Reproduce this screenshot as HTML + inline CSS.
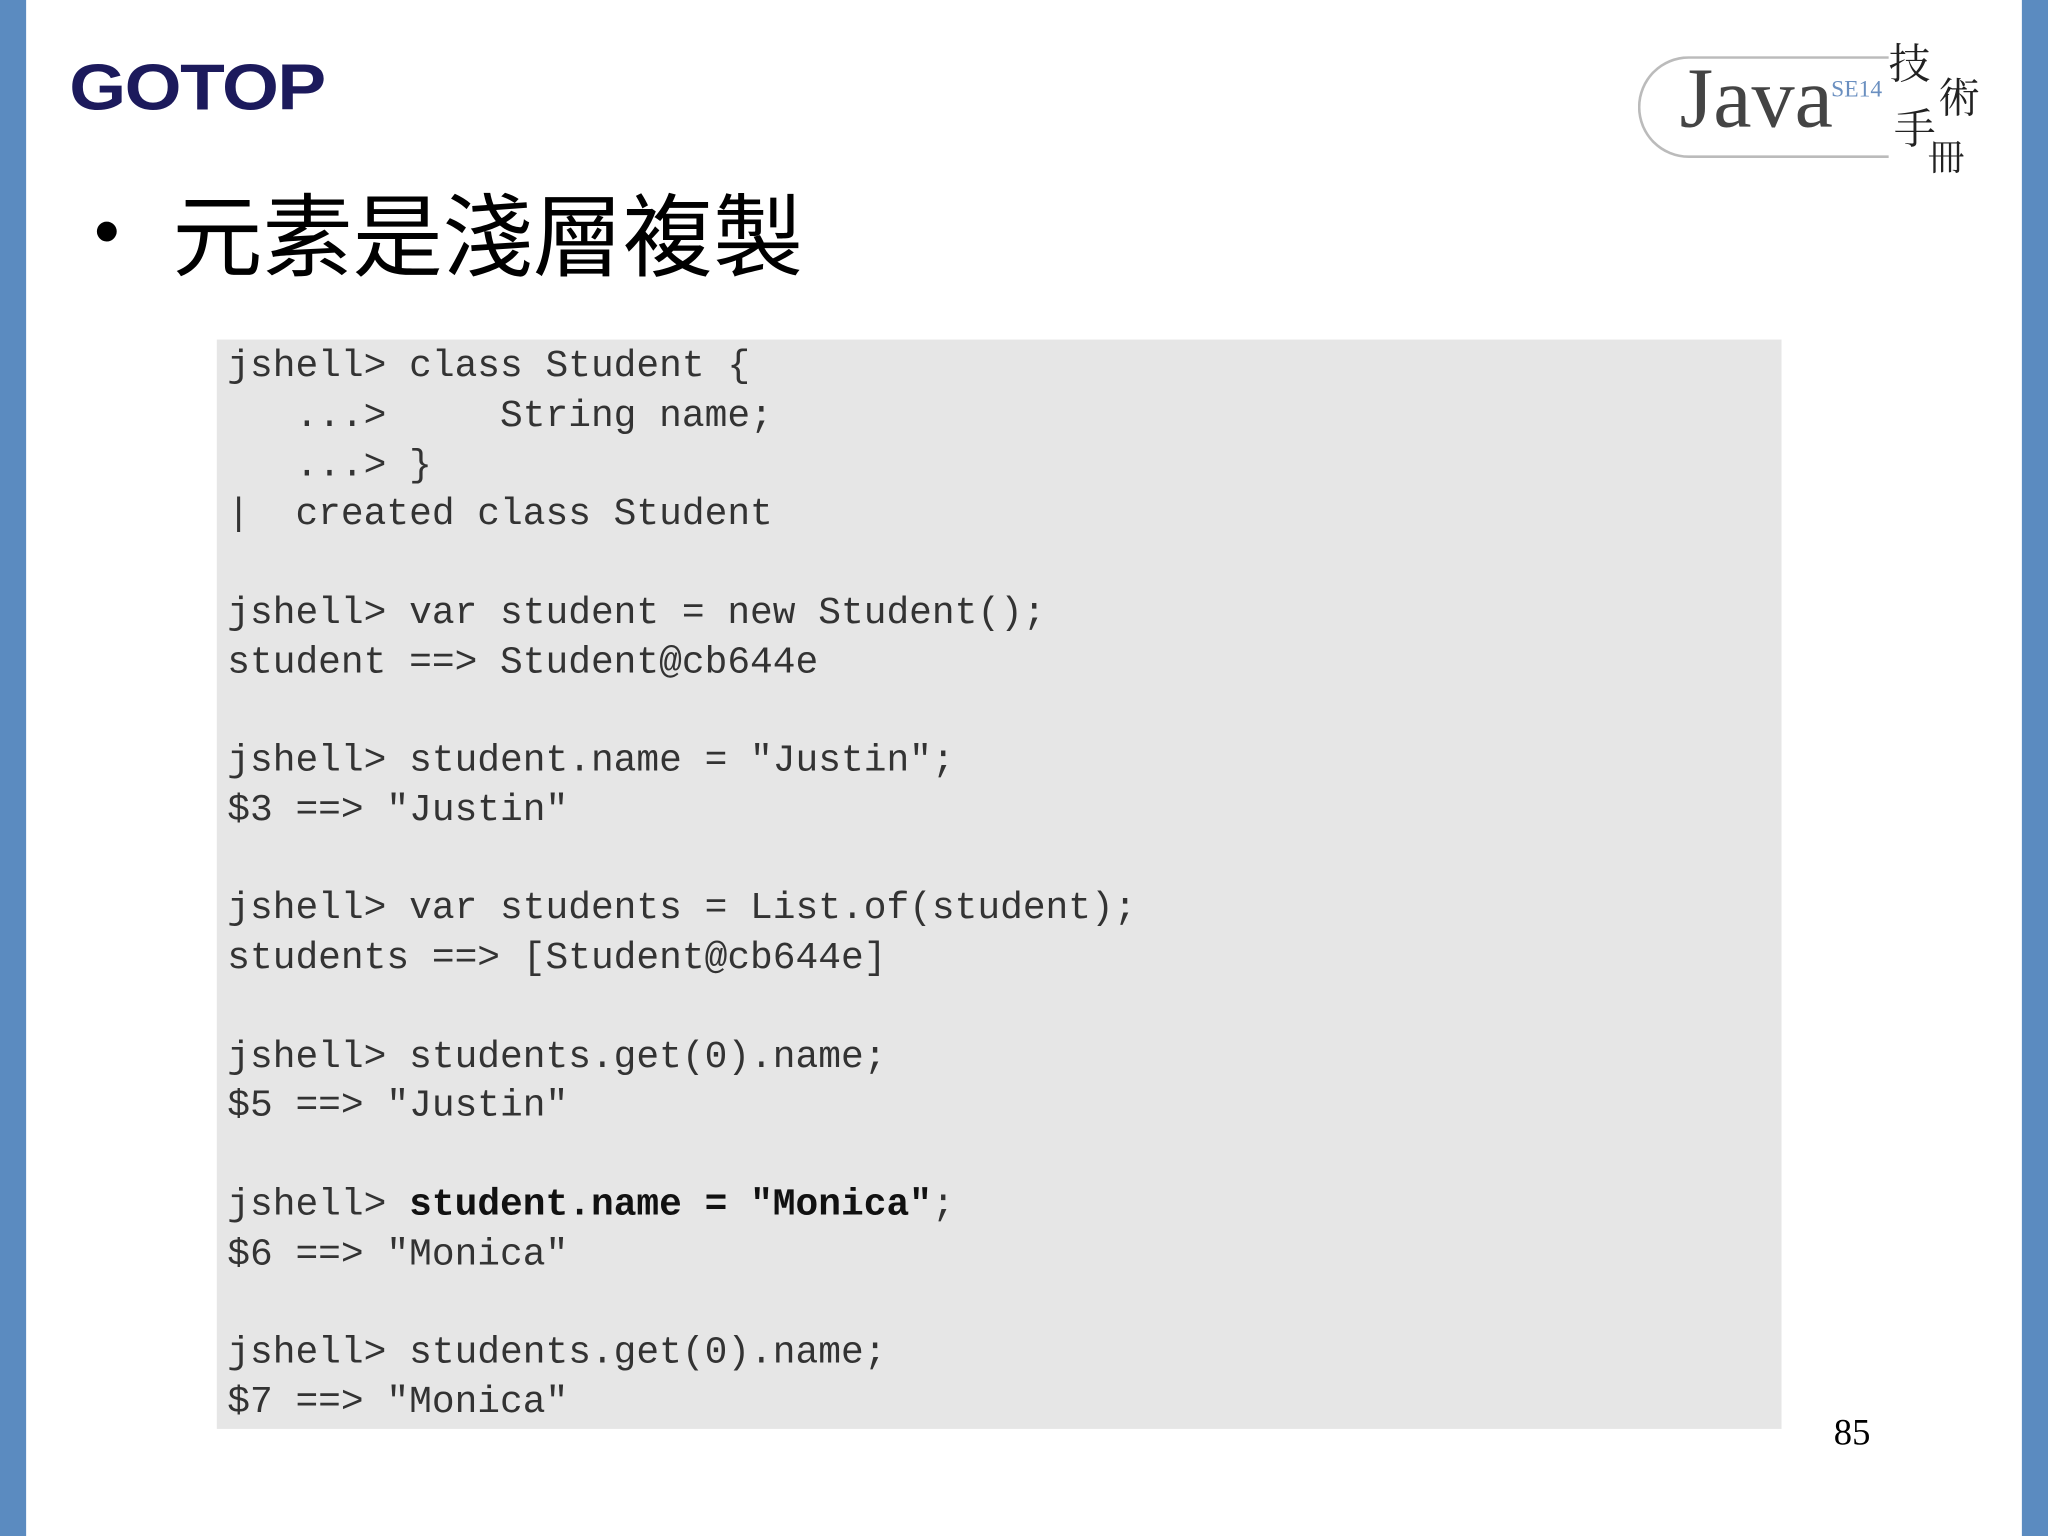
<!DOCTYPE html>
<html><head><meta charset="utf-8"><style>
html,body{margin:0;padding:0;background:#fff;}
body{width:2048px;height:1536px;overflow:hidden;position:relative;}
#s{position:absolute;left:0;top:0;width:1568px;height:1176px;transform:scale(1.306122);transform-origin:0 0;}
.bar{position:absolute;top:0;height:1176px;width:20px;background:#5b8bc0;}
#code{position:absolute;left:166px;top:260px;width:1198px;height:834px;background:#e6e6e6;}
</style></head><body><div id="s">
<div class="bar" style="left:0"></div>
<div class="bar" style="left:1548px"></div>
<div style="position:absolute;left:53px;top:38px;font-family:'Liberation Sans',sans-serif;font-weight:900;font-size:50px;color:#1c1a5c;letter-spacing:-1px;transform:scaleX(1.12);transform-origin:0 0;">GOTOP</div>
<div style="position:absolute;left:1254px;top:43px;width:270px;height:74px;border:2px solid #bbb;border-right:none;border-radius:40px 0 0 40px;"></div>
<div style="position:absolute;left:1286px;top:38px;font-family:'Liberation Serif',serif;font-size:66px;color:#444;">Java</div>
<div style="position:absolute;left:1402px;top:58px;font-family:'Liberation Serif',serif;font-size:18px;color:#6a8fc0;">SE14</div>
<div style="position:absolute;left:1446px;top:30px;width:80px;height:100px;background:#fff;font-family:'Noto Serif CJK SC',serif;font-size:32px;line-height:34px;color:#222;">
<span style="position:absolute;left:0;top:0">技</span><span style="position:absolute;left:38px;top:26px">術</span><span style="position:absolute;left:4px;top:50px">手</span><span style="position:absolute;left:30px;top:72px;font-size:28px">冊</span></div>
<div style="position:absolute;left:72px;top:144px;font-family:'Liberation Sans',sans-serif;font-size:56px;color:#000;">•</div>
<div style="position:absolute;left:132px;top:126px;font-family:'Liberation Sans','Noto Sans CJK TC',sans-serif;font-size:69px;color:#000;">元素是淺層複製</div>
<div id="code"></div>
<pre style="margin:0;position:absolute;left:174px;top:262px;font-family:'Liberation Mono',monospace;font-size:29px;line-height:37.76px;color:#333;">jshell&gt; class Student {
   ...&gt;     String name;
   ...&gt; }
|  created class Student

jshell&gt; var student = new Student();
student ==&gt; Student@cb644e

jshell&gt; student.name = "Justin";
$3 ==&gt; "Justin"

jshell&gt; var students = List.of(student);
students ==&gt; [Student@cb644e]

jshell&gt; students.get(0).name;
$5 ==&gt; "Justin"

jshell&gt; <b style="color:#111">student.name = "Monica"</b>;
$6 ==&gt; "Monica"

jshell&gt; students.get(0).name;
$7 ==&gt; "Monica"</pre>
<div style="position:absolute;left:1404px;top:1082px;font-family:'Liberation Serif',serif;font-size:28px;color:#000;">85</div>
</div></body></html>
